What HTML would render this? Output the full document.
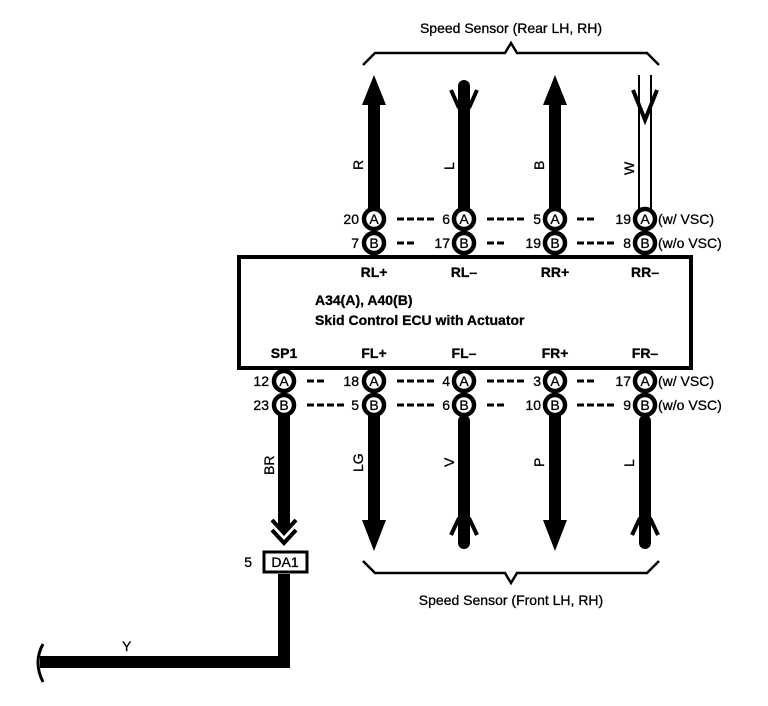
<!DOCTYPE html>
<html><head><style>body{margin:0;background:#fff}svg{display:block}text{font-family:"Liberation Sans",Arial,sans-serif;font-size:14px;fill:#000;stroke:#000;stroke-width:0.3}</style></head><body>
<svg width="768" height="706" viewBox="0 0 768 706">
<defs>
<g id="ca"><circle r="10" fill="#fff" stroke="#000" stroke-width="4.5"/><text x="0" y="5" text-anchor="middle" font-size="14">A</text></g>
<g id="cb"><circle r="10" fill="#fff" stroke="#000" stroke-width="4.5"/><text x="0" y="5" text-anchor="middle" font-size="14">B</text></g>
</defs>
<text x="511" y="33" text-anchor="middle" font-size="14">Speed Sensor (Rear LH,  RH)</text>
<polyline points="363,65 375,53 505,53 511,43 517,53 647,53 659,65" fill="none" stroke="#000" stroke-width="2.5"/>
<rect x="368" y="95" width="12" height="120"/><polygon points="374,75 362,105 386,105"/>
<rect x="458" y="80" width="12" height="135" rx="6"/><path d="M451,90 L459,108 M477,90 L469,108" stroke="#000" stroke-width="4"/>
<rect x="549" y="95" width="12" height="120"/><polygon points="555,75 543,105 567,105"/>
<path d="M639,75 V210 M651,75 V210" stroke="#000" stroke-width="2"/><path d="M633,90 L645,120 L657,90" fill="none" stroke="#000" stroke-width="4"/>
<text transform="translate(363,170) rotate(-90)">R</text>
<text transform="translate(454,170) rotate(-90)">L</text>
<text transform="translate(544,170) rotate(-90)">B</text>
<text transform="translate(634,175) rotate(-90)">W</text>
<g>
<text x="359" y="224" text-anchor="end">20</text><use href="#ca" x="374" y="219"/>
<text x="450" y="224" text-anchor="end">6</text><use href="#ca" x="464" y="219"/>
<text x="541" y="224" text-anchor="end">5</text><use href="#ca" x="555" y="219"/>
<text x="631" y="224" text-anchor="end">19</text><use href="#ca" x="645" y="219"/>
<text x="658" y="224">(w/ VSC)</text>
<text x="359" y="248" text-anchor="end">7</text><use href="#cb" x="374" y="243"/>
<text x="450" y="248" text-anchor="end">17</text><use href="#cb" x="464" y="243"/>
<text x="541" y="248" text-anchor="end">19</text><use href="#cb" x="555" y="243"/>
<text x="631" y="248" text-anchor="end">8</text><use href="#cb" x="645" y="243"/>
<text x="658" y="248">(w/o VSC)</text>
</g>
<g stroke="#000" stroke-width="3" stroke-dasharray="7,3">
<path d="M397,219 H437 M487,219 H527 M577,219 H594"/>
<path d="M397,243 H414 M487,243 H504 M577,243 H617"/>
<path d="M307,381 H324 M397,381 H437 M487,381 H527 M577,381 H594"/>
<path d="M307,405 H347 M397,405 H437 M487,405 H504 M577,405 H617"/>
</g>
<rect x="239" y="257" width="452" height="111" fill="#fff" stroke="#000" stroke-width="4"/>
<g text-anchor="middle" font-weight="bold">
<text x="374" y="277">RL+</text><text x="464" y="277">RL–</text><text x="555" y="277">RR+</text><text x="645" y="277">RR–</text>
<text x="284" y="358">SP1</text><text x="374" y="358">FL+</text><text x="464" y="358">FL–</text><text x="555" y="358">FR+</text><text x="645" y="358">FR–</text>
</g>
<text x="315" y="305" font-weight="bold">A34(A), A40(B)</text>
<text x="315" y="325" font-weight="bold">Skid Control ECU with Actuator</text>
<g>
<text x="269" y="386" text-anchor="end">12</text><use href="#ca" x="284" y="381"/>
<text x="359" y="386" text-anchor="end">18</text><use href="#ca" x="374" y="381"/>
<text x="450" y="386" text-anchor="end">4</text><use href="#ca" x="464" y="381"/>
<text x="541" y="386" text-anchor="end">3</text><use href="#ca" x="555" y="381"/>
<text x="631" y="386" text-anchor="end">17</text><use href="#ca" x="645" y="381"/>
<text x="658" y="386">(w/ VSC)</text>
<text x="269" y="410" text-anchor="end">23</text><use href="#cb" x="284" y="405"/>
<text x="359" y="410" text-anchor="end">5</text><use href="#cb" x="374" y="405"/>
<text x="450" y="410" text-anchor="end">6</text><use href="#cb" x="464" y="405"/>
<text x="541" y="410" text-anchor="end">10</text><use href="#cb" x="555" y="405"/>
<text x="631" y="410" text-anchor="end">9</text><use href="#cb" x="645" y="405"/>
<text x="658" y="410">(w/o VSC)</text>
</g>
<rect x="278" y="415" width="12" height="115"/><path d="M272,520 L284,533 L296,520 M272,530 L284,543 L296,530" fill="none" stroke="#000" stroke-width="4"/>
<rect x="368" y="415" width="12" height="110"/><polygon points="374,551 362,520 386,520"/>
<rect x="458" y="415" width="12" height="134" rx="6"/><path d="M451,535 L459,518 M477,535 L469,518" stroke="#000" stroke-width="4"/>
<rect x="549" y="415" width="12" height="110"/><polygon points="555,551 543,520 567,520"/>
<rect x="639" y="415" width="12" height="134" rx="6"/><path d="M632,535 L640,518 M658,535 L650,518" stroke="#000" stroke-width="4"/>
<text transform="translate(274,475) rotate(-90)">BR</text>
<text transform="translate(363,472) rotate(-90)">LG</text>
<text transform="translate(454,467) rotate(-90)">V</text>
<text transform="translate(544,467) rotate(-90)">P</text>
<text transform="translate(634,467) rotate(-90)">L</text>
<polyline points="363,561 375,573 505,573 511,583 517,573 647,573 659,561" fill="none" stroke="#000" stroke-width="2.5"/>
<text x="511" y="605" text-anchor="middle">Speed Sensor (Front LH,  RH)</text>
<text x="252" y="567" text-anchor="end">5</text>
<rect x="264" y="552" width="43" height="20" fill="#fff" stroke="#000" stroke-width="3"/>
<text x="285" y="567" text-anchor="middle">DA1</text>
<path d="M284,574 V662 H40" fill="none" stroke="#000" stroke-width="12"/>
<path d="M43,644 Q33,662 43,682" fill="none" stroke="#000" stroke-width="3"/>
<text x="122" y="651">Y</text>
</svg>
</body></html>
